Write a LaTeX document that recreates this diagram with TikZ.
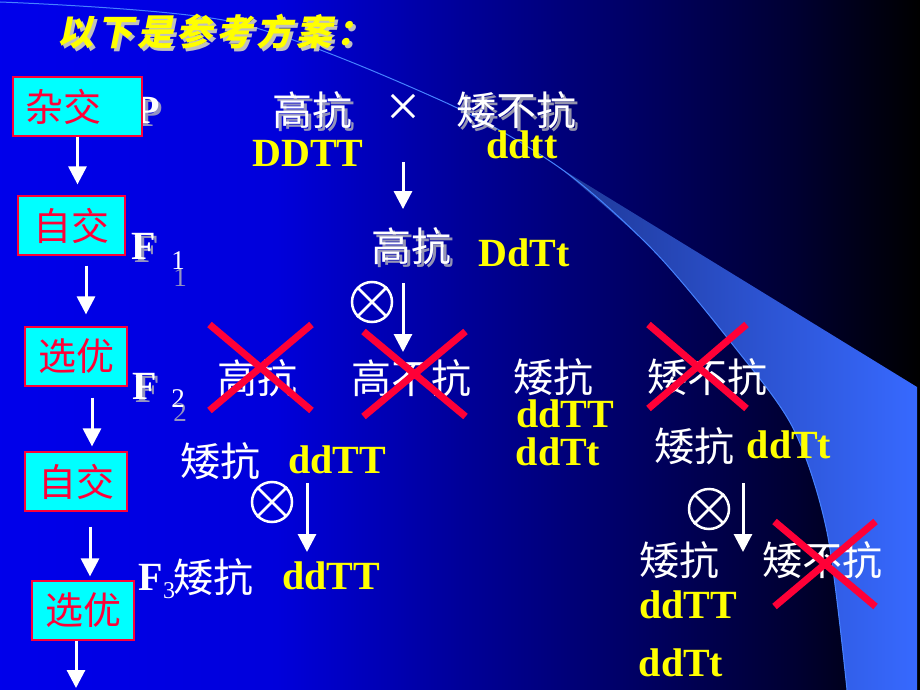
\documentclass[tikz,border=0pt]{standalone}
\usepackage{fontspec}
\setmainfont{Liberation Serif}
\newfontfamily\cjk{Noto Sans CJK SC}
\newfontfamily\cjktitle[FakeSlant=0.2,LetterSpace=11]{Noto Sans CJK SC}
\usetikzlibrary{arrows.meta,shapes.misc}
\definecolor{swooshlo}{RGB}{30,55,150}
\definecolor{swooshhi}{RGB}{55,105,255}
\definecolor{rimblue}{RGB}{70,130,255}
\definecolor{boxred}{RGB}{255,0,55}
\definecolor{boxcyan}{RGB}{0,255,255}
\definecolor{geneyellow}{RGB}{255,255,0}
\pgfdeclarehorizontalshading{slidebg}{100bp}{rgb(0bp)=(0,0,0.92); rgb(25bp)=(0,0,0.92); rgb(40bp)=(0,0,0.86); rgb(50bp)=(0,0,0.6); rgb(60bp)=(0,0,0.38); rgb(68bp)=(0,0,0.2); rgb(75bp)=(0,0,0); rgb(100bp)=(0,0,0)}
\tikzset{every node/.style={draw=none,inner sep=0pt},
  headline/.style={text=geneyellow,font=\cjktitle\bfseries\fontsize{36}{36}\selectfont},
  han/.style={text=white,font=\cjk\fontsize{40}{40}\selectfont},
  gene/.style={text=geneyellow,font=\bfseries\fontsize{40}{40}\selectfont},
  gen/.style={text=white,font=\bfseries\fontsize{40}{40}\selectfont},
  sub/.style={text=white,font=\fontsize{27}{27}\selectfont},
  mating/.style={text=white,font=\fontsize{60}{60}\selectfont},
  ghost/.style={text=gray!55!white,text opacity=0.8},
  stagebox/.style={draw=boxred,line width=1.2pt,fill=boxcyan,text=boxred,font=\cjk\fontsize{38}{38}\selectfont,minimum height=59pt},
  arr/.style={draw=white,line width=3pt,-{Triangle[width=18pt,length=18pt]}},
  selfing/.style={circle,draw=white,line width=2.5pt,minimum size=40pt},
  selfx/.style={white,line width=2.5pt,shorten <=2pt,shorten >=2pt},
  reject/.style={cross out,draw=boxred,line width=7pt}
}

\begin{document}
\begin{tikzpicture}[x=1pt,y=-1pt]
\useasboundingbox (0,0) rectangle (920,690);
\shade[shading=slidebg] (0,0) rectangle (920,690);
\shade[left color=swooshlo,right color=swooshhi] (560,168) -- (917,387) -- (917,690)
  -- plot[smooth] coordinates {(847,690) (827,532) (793,428) (733,345) (653,250) (560,168)} -- cycle;
\draw[rimblue,line width=1pt] plot[smooth] coordinates {(0,2) (233,22) (440,100) (560,168) (653,250) (733,345) (793,428) (827,532) (847,690)};

      % title
      \node[headline,text=gray!50] (heads) at (218,35) {以下是参考方案：};
      \node[headline] (head) at (215,32) {以下是参考方案：};

      % P
      \node[gen,ghost] (Ps) at (151,113) {P};
      \node[gen] (P) at (148,110) {P};
      \node[han,ghost] (ph1s) at (315,113) {高抗};
      \node[han] (ph1) at (312,110) {高抗};
      \node[mating] (cross) at (403,110) {×};
      \node[han,ghost] (ph2s) at (519,113) {矮不抗};
      \node[han] (ph2) at (516,110) {矮不抗};
      \node[gene] (pg1) at (308,153) {DDTT};
      \node[gene] (pg2) at (522,145) {ddtt};

      % stages
      \node[stagebox,minimum width=129pt] (b1) at (77.5,106.5) {杂交\hspace*{28pt}};
      \node[stagebox,minimum width=107pt] (b2) at (71.5,225.5) {自交};
      \node[stagebox,minimum width=102pt] (b3) at (76,356.5) {选优};
      \node[stagebox,minimum width=102pt] (b4) at (76,481.5) {自交};
      \node[stagebox,minimum width=102pt] (b5) at (83,610.5) {选优};
      \coordinate (bot) at (76,688);

      % F1
      \node[gen,ghost] (F1s) at (147,249) {F};
      \node[gen] (F1) at (144,246) {F};
      \node[sub,ghost] (n1s) at (180,278) {1};
      \node[sub] (n1) at (178,261) {1};
      \node[han,ghost] (f1hs) at (414,249) {高抗};
      \node[han] (f1h) at (411,246) {高抗};
      \node[gene] (f1g) at (524,253) {DdTt};

      % F2
      \node[gen,ghost] (F2s) at (148,389) {F};
      \node[gen] (F2) at (145,386) {F};
      \node[sub,ghost] (n2s) at (180,413) {2};
      \node[sub] (n2) at (178,399) {2};
      \node[han] (f2a) at (257,378) {高抗};
      \node[han] (f2b) at (411,378) {高不抗};
      \node[han] (f2c) at (553,377) {矮抗};
      \node[han] (f2d) at (707,377) {矮不抗};
      \node[gene] (f2c1) at (565,414) {ddTT};
      \node[gene] (f2c2) at (558,452) {ddTt};

      \node[han] (lh) at (220,461) {矮抗};
      \node[gene] (lg) at (337,460) {ddTT};
      \node[han] (rh) at (694,446) {矮抗};
      \node[gene] (rg) at (789,445) {ddTt};

      % F3
      \node[gen] (F3) at (151,577) {F};
      \node[sub,font=\fontsize{24}{24}\selectfont] (n3) at (169,591) {3};
      \node[han] (f3h) at (213,577) {矮抗};
      \node[gene] (f3g) at (331,576) {ddTT};
      \node[han] (rh1) at (679,560) {矮抗};
      \node[gene] (rg1) at (688,605) {ddTT};
      \node[gene] (rg2) at (681,663) {ddTt};
      \node[han] (rh2) at (822,560) {矮不抗};

      \node[selfing] (s1) at (372,302) {};
      \node[selfing] (s2) at (272,502) {};
      \node[selfing] (s3) at (709,509) {};

\foreach \s in {s1,s2,s3}
  \draw[selfx] (\s.45) -- (\s.225) (\s.135) -- (\s.315);

\draw[arr,shorten <=9pt,shorten >=18pt] (cross |- pg1.center) -- (cross |- f1h.north);
\draw[arr,shorten <=37pt,shorten >=26pt] (cross |- f1h.center) -- (cross |- f2b.center);
\draw[arr,shorten <=23pt,shorten >=24pt] ([xshift=-30pt]lg.center) -- ([xshift=-24pt]f3g.center);
\draw[arr,shorten <=38pt,shorten >=8pt] ([xshift=-46pt]rg.center) -- ([xshift=64pt]rh1.center);

\draw[arr,shorten >=11pt] (b1.south) -- (b1.south |- b2.north);
\draw[arr,shorten <=10pt,shorten >=12pt] ([xshift=14.5pt]b2.south) -- ([xshift=10pt]b3.north);
\draw[arr,shorten <=11pt,shorten >=5pt] ([xshift=16pt]b3.south) -- ([xshift=16pt]b4.north);
\draw[arr,shorten <=15pt,shorten >=4pt] ([xshift=14pt]b4.south) -- ([xshift=7pt]b5.north);
\draw[arr] ([xshift=-7pt]b5.south) -- (bot);

      % rejected
      \node[reject,minimum width=95pt,minimum height=79pt] (x1) at (260.5,367.5) {};
      \node[reject,minimum width=95pt,minimum height=78pt] (x2) at (414.5,374) {};
      \node[reject,minimum width=91pt,minimum height=77pt] (x3) at (697.5,366.5) {};
      \node[reject,minimum width=94pt,minimum height=78pt] (x4) at (825,564) {};
    \end{tikzpicture}
\end{document}
